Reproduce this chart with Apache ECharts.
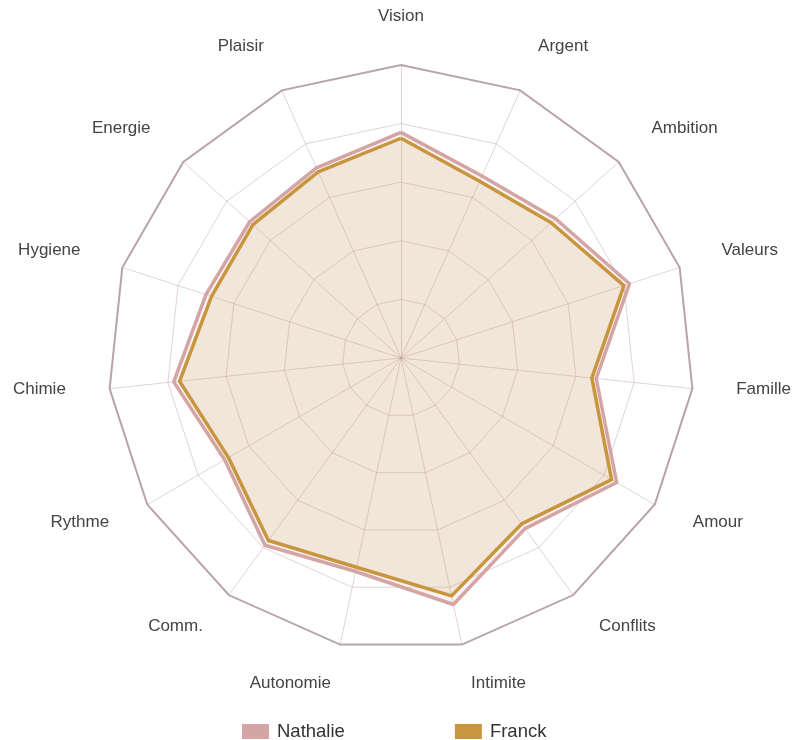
<!DOCTYPE html>
<html>
<head>
<meta charset="utf-8">
<script src="https://cdn.jsdelivr.net/npm/echarts@6/dist/echarts.min.js"></script>
<style>
  html, body { margin: 0; padding: 0; background: #fff; }
  #chart { width: 793px; height: 740px; }
</style>
</head>
<body>
<div id="chart"></div>
<script>
// axes, clockwise from the top as read on the picture
const categories = ["Vision", "Argent", "Ambition", "Valeurs", "Famille", "Amour", "Conflits",
  "Intimite", "Autonomie", "Comm.", "Rythme", "Chimie", "Hygiene", "Energie", "Plaisir"];
const nathalie = [77, 68, 71, 82, 67, 85, 72, 86, 74.5, 79, 69.5, 78, 70, 69.5, 71];
const franck = [75, 66, 69, 80, 65.5, 83, 70, 83, 73, 77, 68, 76, 68, 68, 69.5];
const maxValue = 100;

// echarts lays indicators out counter-clockwise, so keep the first and flip the rest
const cw = (arr) => [arr[0], ...arr.slice(1).reverse()];

const chart = echarts.init(document.getElementById("chart"), null, { renderer: "canvas" });

const baseRadar = {
  center: [401, 358],
  radius: 293,
  startAngle: 90,
  shape: "polygon",
  splitNumber: 5,
  indicator: cw(categories).map((name) => ({ name, max: maxValue, min: 0 })),
};

chart.setOption({
  animation: false,
  color: ["#d4a5a5", "#c8963e"],
  legend: {
    left: 237,
    top: 717,
    itemWidth: 27,
    itemHeight: 15,
    itemGap: 110,
    icon: "rect",
    textStyle: {
      fontSize: 18.5,
      color: "#333",
      padding: [0, 0, 0, 3],
      fontFamily: "Liberation Sans, Arial, sans-serif",
    },
    data: ["Nathalie", "Franck"],
  },
  radar: [
    {
      ...baseRadar,
      nameGap: 44,
      axisName: {
        color: "#444",
        fontSize: 17,
        fontFamily: "Liberation Sans, Arial, sans-serif",
        // top label sits a bit lower, the others a bit higher
        formatter: (name) => (name === categories[0] ? `{t|${name}}` : `{n|${name}}`),
        rich: {
          t: { fontSize: 17, color: "#444", lineHeight: 10 },
          n: { fontSize: 17, color: "#444", padding: [0, 0, 8, 0] },
        },
      },
      splitArea: { show: false },
      splitLine: { lineStyle: { color: "rgba(190,160,165,0.45)", width: 1 } },
      axisLine: { lineStyle: { color: "rgba(190,160,165,0.45)", width: 1 } },
    },
    {
      // outer ring, drawn heavier
      ...baseRadar,
      splitNumber: 1,
      axisName: { show: false },
      splitArea: { show: false },
      axisLine: { show: false },
      splitLine: { lineStyle: { color: "#b9a3ad", width: 2 } },
    },
  ],
  series: [
    {
      type: "radar",
      radarIndex: 0,
      symbol: "none",
      data: [
        {
          name: "Nathalie",
          value: cw(nathalie),
          lineStyle: { color: "#d4a5a5", width: 3.5 },
          areaStyle: { color: "#d4a5a5", opacity: 0.14 },
        },
        {
          name: "Franck",
          value: cw(franck),
          lineStyle: { color: "#c8963e", width: 3.5 },
          areaStyle: { color: "#c8963e", opacity: 0.14 },
        },
      ],
    },
  ],
});

window.addEventListener("resize", () => chart.resize());
</script>
</body>
</html>
